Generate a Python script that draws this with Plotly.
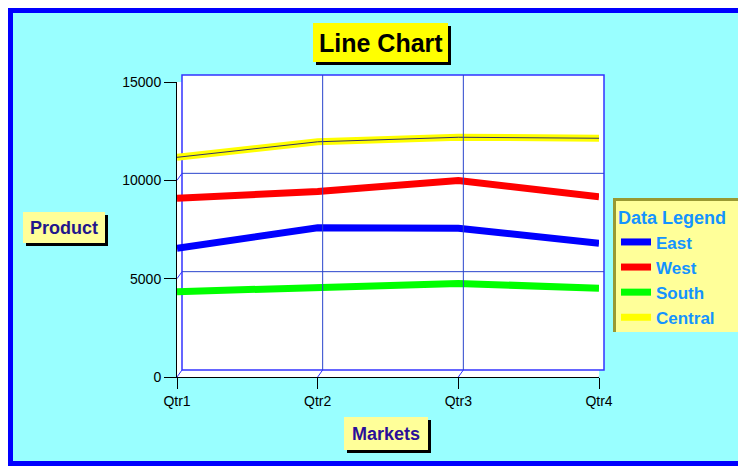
import plotly.graph_objects as go

# ---- data ----
quarters = ["Qtr1", "Qtr2", "Qtr3", "Qtr4"]
east = [6550, 7590, 7560, 6800]
west = [9085, 9430, 9985, 9170]
south = [4340, 4560, 4760, 4510]
central = [11170, 11960, 12190, 12140]
y_ticks = [0, 5000, 10000, 15000]

series_names = ["East", "West", "South", "Central"]
series_values = [east, west, south, central]
series_colors = ["#0000FF", "#FF0000", "#00FF00", "#FFFF00"]

# ---- geometry (pixels); page body has an 8px margin ----
OFF = 8
WIDTH, HEIGHT = 746 - OFF, 466 - OFF
ML, MR, MT, MB = 177 - OFF, 746 - 599, 82 - OFF, 466 - 377
PW = WIDTH - ML - MR
PH = HEIGHT - MT - MB
DX, DY = 5, 7  # 3D depth offset of front face


def px(x):
    return (x - OFF - ML) / PW


def py(y):
    return (HEIGHT - MB - (y - OFF)) / PH


FONT = "Liberation Sans, Arial, sans-serif"
GRID = "#2a44cc"
FACE = "#3333FF"

fig = go.Figure()
for name, vals, col in zip(series_names, series_values, series_colors):
    fig.add_trace(go.Scatter(x=quarters, y=vals, name=name, mode="lines",
                             line=dict(color=col, width=7)))
# thin dark line running inside the Central band
fig.add_trace(go.Scatter(x=quarters, y=central, mode="lines", showlegend=False,
                         hoverinfo="skip", line=dict(color="#333366", width=1)))

shapes = []
# outer frame
shapes.append(dict(type="rect", xref="paper", yref="paper", layer="below",
                   x0=px(10), x1=px(770), y0=py(464), y1=py(10),
                   fillcolor="#99FFFF", line=dict(color="#0000FF", width=6)))
# white planes
shapes.append(dict(type="rect", xref="paper", yref="paper", layer="below",
                   x0=0, x1=1, y0=0, y1=1, fillcolor="white", line=dict(width=0)))
shapes.append(dict(type="rect", xref="paper", yref="paper", layer="below",
                   x0=DX / PW, x1=1 + DX / PW, y0=DY / PH, y1=1 + DY / PH,
                   fillcolor="white", line=dict(color=FACE, width=1.5)))
# front-face gridlines
for v in y_ticks[1:-1]:
    shapes.append(dict(type="line", xref="paper", yref="y", ysizemode="pixel",
                       yanchor=v, x0=DX / PW, x1=1 + DX / PW, y0=DY, y1=DY,
                       line=dict(color=GRID, width=1)))
for q in quarters[1:-1]:
    shapes.append(dict(type="line", xref="x", xsizemode="pixel", xanchor=q,
                       yref="paper", x0=DX, x1=DX, y0=DY / PH, y1=1 + DY / PH,
                       line=dict(color=GRID, width=1)))
# 3D connectors
for v in y_ticks:
    shapes.append(dict(type="line", xref="x", xsizemode="pixel", xanchor=quarters[0],
                       yref="y", ysizemode="pixel", yanchor=v,
                       x0=0, x1=DX, y0=0, y1=DY, line=dict(color=FACE, width=1)))
for q in quarters[1:]:
    shapes.append(dict(type="line", xref="x", xsizemode="pixel", xanchor=q,
                       yref="y", ysizemode="pixel", yanchor=0,
                       x0=0, x1=DX, y0=0, y1=DY, line=dict(color=FACE, width=1)))


def boxed(x0, y0, x1, y1, fill, shadow=3):
    shapes.append(dict(type="rect", xref="paper", yref="paper", layer="below",
                       x0=px(x0 + shadow), x1=px(x1 + shadow),
                       y0=py(y1 + shadow), y1=py(y0 + shadow),
                       fillcolor="black", line=dict(width=0)))
    shapes.append(dict(type="rect", xref="paper", yref="paper", layer="below",
                       x0=px(x0), x1=px(x1), y0=py(y1), y1=py(y0),
                       fillcolor=fill, line=dict(width=0)))


boxed(313, 23, 448, 62, "#FFFF00")
boxed(23, 212, 105, 243, "#FFFF99")
boxed(344, 417, 428, 450, "#FFFF99")

# legend box
shapes.append(dict(type="rect", xref="paper", yref="paper", layer="below",
                   x0=px(613), x1=px(743), y0=py(332), y1=py(198),
                   fillcolor="#FFFF99", line=dict(width=0)))
shapes.append(dict(type="line", xref="paper", yref="paper", layer="below",
                   x0=px(614.5), x1=px(614.5), y0=py(332), y1=py(198),
                   line=dict(color="#999933", width=3)))
shapes.append(dict(type="line", xref="paper", yref="paper", layer="below",
                   x0=px(613), x1=px(743), y0=py(199.5), y1=py(199.5),
                   line=dict(color="#999933", width=3)))

annotations = [
    dict(text="Line Chart", xref="paper", yref="paper", x=px(381), y=py(43),
         showarrow=False, xanchor="center", yanchor="middle",
         font=dict(family=FONT, size=25, color="black", weight="bold")),
    dict(text="Product", xref="paper", yref="paper", x=px(64), y=py(228),
         showarrow=False, xanchor="center", yanchor="middle",
         font=dict(family=FONT, size=18, color="#22168C", weight="bold")),
    dict(text="Markets", xref="paper", yref="paper", x=px(386), y=py(434),
         showarrow=False, xanchor="center", yanchor="middle",
         font=dict(family=FONT, size=18, color="#2A0F99", weight="bold")),
]

fig.update_layout(
    width=WIDTH, height=HEIGHT,
    margin=dict(l=ML, r=MR, t=MT, b=MB, pad=0),
    paper_bgcolor="white", plot_bgcolor="rgba(0,0,0,0)",
    shapes=shapes, annotations=annotations,
    showlegend=True,
    legend=dict(x=px(616), y=py(201), xanchor="left", yanchor="top",
                bgcolor="rgba(0,0,0,0)", borderwidth=0, itemwidth=30,
                title=dict(text="Data Legend",
                           font=dict(family=FONT, size=18, color="#1493FF", weight="bold")),
                font=dict(family=FONT, size=17, color="#1493FF", weight="bold")),
    xaxis=dict(type="category", categoryorder="array", categoryarray=quarters,
               range=[0, len(quarters) - 1], showgrid=False, zeroline=False,
               showline=True, linecolor="black", linewidth=1,
               ticks="outside", ticklen=11, tickcolor="black",
               tickfont=dict(family=FONT, size=14, color="black"), automargin=False),
    yaxis=dict(range=[0, 15000], tickvals=y_ticks, tickformat="d",
               showgrid=False, zeroline=False,
               showline=True, linecolor="black", linewidth=1,
               ticks="outside", ticklen=12, tickcolor="black",
               tickfont=dict(family=FONT, size=14, color="black"), automargin=False),
)

fig.write_html("out.html")
